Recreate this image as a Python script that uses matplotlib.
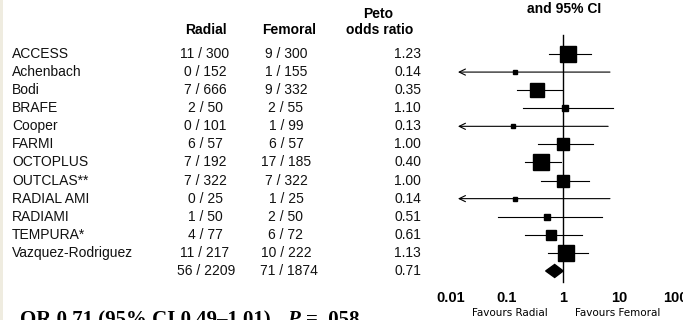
import numpy as np
import matplotlib.pyplot as plt
from matplotlib.patches import Polygon, Rectangle
from matplotlib.transforms import blended_transform_factory

# Trials of radial vs femoral access, Peto odds ratios with 95% CI
studies = ["ACCESS", "Achenbach", "Bodi", "BRAFE", "Cooper", "FARMI",
           "OCTOPLUS", "OUTCLAS**", "RADIAL AMI", "RADIAMI", "TEMPURA*",
           "Vazquez-Rodriguez"]
radial = ["11 / 300", "0 / 152", "7 / 666", "2 / 50", "0 / 101", "6 / 57",
          "7 / 192", "7 / 322", "0 / 25", "1 / 50", "4 / 77", "11 / 217"]
femoral = ["9 / 300", "1 / 155", "9 / 332", "2 / 55", "1 / 99", "6 / 57",
           "17 / 185", "7 / 322", "1 / 25", "2 / 50", "6 / 72", "10 / 222"]
odds = [1.23, 0.14, 0.35, 1.10, 0.13, 1.00, 0.40, 1.00, 0.14, 0.51, 0.61, 1.13]
ci_low = [0.56, 0.003, 0.15, 0.19, 0.003, 0.36, 0.21, 0.41, 0.003, 0.07, 0.21, 0.54]
ci_high = [3.1, 6.9, 0.97, 7.9, 6.4, 3.4, 0.93, 2.9, 6.9, 5.0, 2.2, 2.8]
weights = [16, 1, 13, 2, 0.7, 10, 17, 11, 0.7, 2, 7, 18]

total_radial = "56 / 2209"
total_femoral = "71 / 1874"
total_or, total_lo, total_hi = 0.71, 0.49, 1.01

W, H = 683, 320
fig = plt.figure(figsize=(W / 100, H / 100), dpi=100)
fig.patch.set_facecolor("white")
fig.add_artist(Rectangle((0, 0), 3 / W, 1, transform=fig.transFigure,
                         color="#efece0", lw=0))

# forest axes: x from 0.01 to 100, rows spaced 18 px starting at y=54 px
row0, step = 54, 18.08
top_px, bot_px = 30, 290
ax = fig.add_axes([451 / W, 1 - bot_px / H, 224 / W, (bot_px - top_px) / H])
ax.set_xscale("log")
ax.set_xlim(0.01, 100)
ax.set_ylim((bot_px - row0) / step, (top_px - row0) / step)
for s in ax.spines.values():
    s.set_visible(False)
ax.set_yticks([])
ax.set_xticks([0.01, 0.1, 1, 10, 100])
ax.set_xticklabels(["0.01", "0.1", "1", "10", "100"],
                   fontfamily="Liberation Sans", fontweight="bold", fontsize=10.5)
ax.xaxis.set_minor_locator(plt.NullLocator())
ax.tick_params(axis="x", length=0, pad=0.5)
ax.patch.set_alpha(0)

n = len(studies)
ax.plot([1, 1], [(35 - row0) / step, n + 0.6], color="black", lw=1.0, zorder=1)

arrow_tip = 0.0133
for i in range(n):
    if ci_low[i] < arrow_tip:
        ax.annotate("", xy=(arrow_tip, i), xytext=(ci_high[i], i),
                    arrowprops=dict(arrowstyle="->,head_length=0.45,head_width=0.22",
                                    lw=0.8, color="black", shrinkA=0, shrinkB=0))
    else:
        ax.plot([ci_low[i], ci_high[i]], [i, i], color="black", lw=0.8)
    side = 3.8 * np.sqrt(weights[i]) * 0.72
    ax.plot(odds[i], i, marker="s", ms=side, color="black", mec="black", lw=0)

# pooled estimate diamond
half = 6.5 / step
ax.add_patch(Polygon([(total_lo, n), (total_or, n - half), (total_hi, n),
                      (total_or, n + half)], closed=True, color="black"))

# text table
sans = "Liberation Sans"
body = dict(fontsize=10, family=sans, color="#111111", va="center")
tr = blended_transform_factory(fig.transFigure, ax.transData)
for i in range(n):
    fig.text(12 / W, i, studies[i], transform=tr, ha="left", **body)
    fig.text(205 / W, i, radial[i], transform=tr, ha="center", **body)
    fig.text(286 / W, i, femoral[i], transform=tr, ha="center", **body)
    fig.text(421 / W, i, f"{odds[i]:.2f}", transform=tr, ha="right", **body)
fig.text(206 / W, n, total_radial, transform=tr, ha="center", **body)
fig.text(289 / W, n, total_femoral, transform=tr, ha="center", **body)
fig.text(421 / W, n, f"{total_or:.2f}", transform=tr, ha="right", **body)

# column headers
hdr = dict(fontsize=10, family=sans, fontweight="bold", va="center", ha="center")
fig.text(206 / W, 1 - 30.5 / H, "Radial", **hdr)
fig.text(289 / W, 1 - 30.5 / H, "Femoral", **hdr)
fig.text(378 / W, 1 - 14 / H, "Peto", **hdr)
fig.text(380 / W, 1 - 30 / H, "odds ratio", **hdr)
fig.text(564 / W, 1 - 9 / H, "and 95% CI", **hdr)

fav = dict(fontsize=7.5, family="DejaVu Sans", va="center", ha="center")
fig.text(510 / W, 1 - 313 / H, "Favours Radial", **fav)
fig.text(618 / W, 1 - 313 / H, "Favours Femoral", **fav)

# summary line at the foot
serif = dict(fontsize=15, family="Liberation Serif", fontweight="bold", va="top")
fig.text(20 / W, 1 - 310 / H, "OR 0.71 (95% CI 0.49\u20131.01),", **serif)
fig.text(287 / W, 1 - 310 / H, "P", style="italic", **serif)
fig.text(306 / W, 1 - 310 / H, "= .058", **serif)

fig.savefig("out.png", dpi=100)
